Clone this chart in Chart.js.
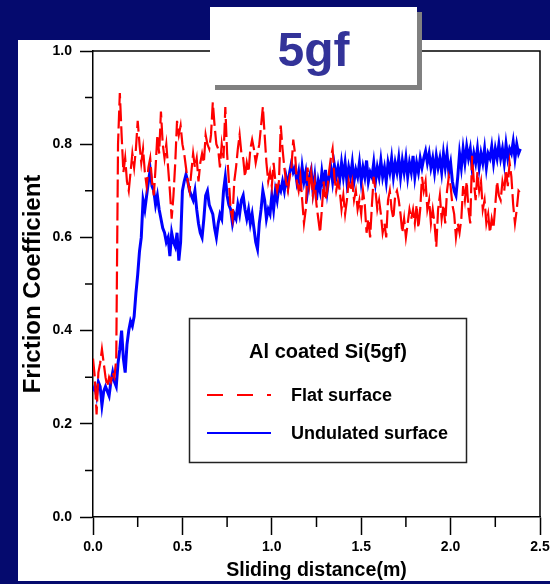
<!DOCTYPE html>
<html>
<head>
<meta charset="utf-8">
<script src="https://cdn.jsdelivr.net/npm/chart.js@4.4.1/dist/chart.umd.min.js"></script>
<style>
  html, body { margin: 0; padding: 0; background: #050a6e; overflow: hidden; }
  canvas { display: block; }
</style>
</head>
<body>
<canvas id="chart" width="550" height="584"></canvas>
<script>
// Sliding distance (m) at which each friction sample was recorded
const distance = [
  0.00,0.01,0.02,0.03,0.04,0.05,0.06,0.07,0.08,0.09,
  0.10,0.11,0.12,0.13,0.14,0.15,0.16,0.17,0.18,0.19,
  0.20,0.21,0.22,0.23,0.24,0.25,0.26,0.27,0.28,0.29,
  0.30,0.31,0.32,0.33,0.34,0.35,0.36,0.37,0.38,0.39,
  0.40,0.41,0.42,0.43,0.44,0.45,0.46,0.47,0.48,0.49,
  0.50,0.51,0.52,0.53,0.54,0.55,0.56,0.57,0.58,0.59,
  0.60,0.61,0.62,0.63,0.64,0.65,0.66,0.67,0.68,0.69,
  0.70,0.71,0.72,0.73,0.74,0.75,0.76,0.77,0.78,0.79,
  0.80,0.81,0.82,0.83,0.84,0.85,0.86,0.87,0.88,0.89,
  0.90,0.91,0.92,0.93,0.94,0.95,0.96,0.97,0.98,0.99,
  1.00,1.01,1.02,1.03,1.04,1.05,1.06,1.07,1.08,1.09,
  1.10,1.11,1.12,1.13,1.14,1.15,1.16,1.17,1.18,1.19,
  1.20,1.21,1.22,1.23,1.24,1.25,1.26,1.27,1.28,1.29,
  1.30,1.31,1.32,1.33,1.34,1.35,1.36,1.37,1.38,1.39,
  1.40,1.41,1.42,1.43,1.44,1.45,1.46,1.47,1.48,1.49,
  1.50,1.51,1.52,1.53,1.54,1.55,1.56,1.57,1.58,1.59,
  1.60,1.61,1.62,1.63,1.64,1.65,1.66,1.67,1.68,1.69,
  1.70,1.71,1.72,1.73,1.74,1.75,1.76,1.77,1.78,1.79,
  1.80,1.81,1.82,1.83,1.84,1.85,1.86,1.87,1.88,1.89,
  1.90,1.91,1.92,1.93,1.94,1.95,1.96,1.97,1.98,1.99,
  2.00,2.01,2.02,2.03,2.04,2.05,2.06,2.07,2.08,2.09,
  2.10,2.11,2.12,2.13,2.14,2.15,2.16,2.17,2.18,2.19,
  2.20,2.21,2.22,2.23,2.24,2.25,2.26,2.27,2.28,2.29,
  2.30,2.31,2.32,2.33,2.34,2.35,2.36,2.37,2.38,2.39
];

// Friction coefficient, flat surface
const flatSurface = [
  0.34,0.30,0.22,0.31,0.33,0.36,0.33,0.30,0.28,0.30,
  0.29,0.31,0.30,0.34,0.80,0.91,0.82,0.74,0.77,0.72,
  0.70,0.74,0.78,0.75,0.79,0.85,0.80,0.76,0.79,0.74,
  0.71,0.75,0.77,0.72,0.69,0.75,0.82,0.78,0.87,0.80,
  0.77,0.80,0.75,0.70,0.64,0.69,0.76,0.85,0.82,0.84,
  0.80,0.78,0.75,0.72,0.70,0.74,0.78,0.75,0.77,0.72,
  0.76,0.78,0.76,0.82,0.80,0.79,0.82,0.89,0.84,0.80,
  0.79,0.75,0.80,0.77,0.88,0.78,0.72,0.66,0.64,0.72,
  0.75,0.79,0.82,0.78,0.77,0.73,0.76,0.74,0.79,0.81,
  0.79,0.76,0.78,0.80,0.84,0.88,0.82,0.76,0.72,0.74,
  0.71,0.76,0.72,0.70,0.72,0.84,0.79,0.75,0.72,0.70,
  0.73,0.75,0.81,0.78,0.72,0.70,0.73,0.68,0.63,0.66,
  0.75,0.71,0.74,0.69,0.72,0.67,0.64,0.61,0.66,0.72,
  0.68,0.70,0.74,0.77,0.79,0.73,0.70,0.72,0.70,0.66,
  0.69,0.65,0.68,0.72,0.70,0.72,0.68,0.70,0.66,0.68,
  0.65,0.70,0.67,0.61,0.64,0.60,0.67,0.73,0.70,0.66,
  0.68,0.65,0.61,0.63,0.60,0.68,0.70,0.66,0.64,0.69,
  0.70,0.68,0.65,0.61,0.64,0.60,0.63,0.66,0.64,0.66,
  0.63,0.67,0.62,0.66,0.73,0.70,0.72,0.66,0.68,0.63,
  0.66,0.63,0.58,0.66,0.69,0.64,0.67,0.63,0.70,0.73,
  0.71,0.67,0.65,0.60,0.63,0.61,0.64,0.71,0.68,0.72,
  0.66,0.63,0.775,0.72,0.68,0.74,0.70,0.72,0.66,0.68,
  0.63,0.65,0.61,0.64,0.62,0.67,0.72,0.69,0.68,0.72,
  0.70,0.745,0.71,0.76,0.73,0.67,0.63,0.66,0.70,0.695
];

// Friction coefficient, undulated surface
const undulatedSurface = [
  0.27,0.28,0.26,0.29,0.28,0.24,0.27,0.28,0.27,0.26,
  0.29,0.31,0.29,0.28,0.33,0.36,0.40,0.34,0.31,0.37,
  0.40,0.42,0.41,0.43,0.48,0.52,0.57,0.60,0.68,0.66,
  0.69,0.72,0.745,0.71,0.70,0.67,0.69,0.66,0.64,0.62,
  0.61,0.59,0.60,0.56,0.61,0.59,0.58,0.61,0.55,0.59,
  0.70,0.72,0.735,0.72,0.70,0.69,0.68,0.70,0.66,0.63,
  0.61,0.60,0.64,0.69,0.70,0.67,0.66,0.65,0.62,0.60,
  0.63,0.65,0.64,0.70,0.73,0.69,0.67,0.66,0.63,0.65,
  0.64,0.67,0.65,0.68,0.69,0.66,0.64,0.66,0.63,0.65,
  0.62,0.59,0.575,0.63,0.66,0.70,0.68,0.64,0.66,0.65,
  0.69,0.66,0.70,0.68,0.71,0.70,0.72,0.70,0.73,0.71,
  0.74,0.76,0.74,0.75,0.72,0.74,0.70,0.75,0.72,0.74,
  0.70,0.73,0.745,0.70,0.73,0.68,0.72,0.70,0.74,0.71,
  0.745,0.70,0.73,0.75,0.72,0.755,0.73,0.75,0.725,0.76,
  0.73,0.76,0.72,0.75,0.73,0.76,0.72,0.745,0.73,0.76,
  0.72,0.75,0.73,0.765,0.72,0.74,0.73,0.76,0.72,0.75,
  0.73,0.765,0.73,0.75,0.72,0.76,0.74,0.77,0.73,0.76,
  0.74,0.77,0.73,0.765,0.74,0.77,0.73,0.76,0.74,0.775,
  0.73,0.76,0.74,0.77,0.75,0.77,0.785,0.76,0.78,0.75,
  0.77,0.74,0.775,0.75,0.77,0.74,0.78,0.75,0.78,0.74,
  0.76,0.72,0.70,0.69,0.73,0.78,0.75,0.79,0.76,0.795,
  0.77,0.79,0.75,0.78,0.76,0.79,0.75,0.78,0.76,0.79,
  0.75,0.78,0.77,0.795,0.76,0.79,0.77,0.80,0.77,0.79,
  0.76,0.80,0.77,0.79,0.78,0.805,0.77,0.80,0.78,0.79
];

const seriesLabels = ['Flat surface', 'Undulated surface'];
const legendTitle = 'Al coated Si(5gf)';
const panelTitle = '5gf';
const xAxisTitle = 'Sliding distance(m)';
const yAxisTitle = 'Friction Coefficient';
const xRange = [0, 2.5];
const yRange = [0, 1.0];

const NAVY = '#050a6e';
const FONT = 'Arial, "Liberation Sans", Helvetica, sans-serif';
const LEGEND_DASH = [16, 14];

const toPoints = (xs, ys) => ys.map((v, i) => ({ x: xs[i], y: v }));
const near = (v, step) => Math.abs(v / step - Math.round(v / step)) < 1e-6;

// Navy backdrop, white panel, plot frame, minor ticks, legend box and title card
const decorations = {
  id: 'decorations',
  beforeDraw(chart) {
    const c = chart.ctx;
    c.save();
    c.fillStyle = NAVY;
    c.fillRect(0, 0, chart.width, chart.height);
    c.fillStyle = '#ffffff';
    c.fillRect(18, 40, chart.width - 18, 541);
    c.restore();
  },
  afterDraw(chart) {
    const c = chart.ctx;
    const a = chart.chartArea;
    const xs = chart.scales.x, ys = chart.scales.y;
    c.save();
    c.strokeStyle = '#000';
    c.lineWidth = 1.5;
    c.beginPath();
    c.moveTo(a.left, a.top);
    c.lineTo(a.right, a.top);
    c.lineTo(a.right, a.bottom);
    c.stroke();

    // short minor ticks
    c.beginPath();
    ys.ticks.forEach(t => {
      if (!near(t.value, 0.2)) {
        const p = ys.getPixelForValue(t.value);
        c.moveTo(a.left - 8, p); c.lineTo(a.left, p);
      }
    });
    xs.ticks.forEach(t => {
      if (!near(t.value, 0.5)) {
        const p = xs.getPixelForValue(t.value);
        c.moveTo(p, a.bottom); c.lineTo(p, a.bottom + 10);
      }
    });
    c.stroke();

    // legend box
    const lx = 189.5, ly = 318.5, lw = 277, lh = 144;
    c.fillStyle = '#fff';
    c.fillRect(lx, ly, lw, lh);
    c.strokeStyle = '#222';
    c.lineWidth = 1.5;
    c.strokeRect(lx, ly, lw, lh);
    c.fillStyle = '#000';
    c.textBaseline = 'alphabetic';
    c.textAlign = 'center';
    c.font = 'bold 20px ' + FONT;
    c.fillText(legendTitle, lx + lw / 2, 358);
    const rows = [395, 433];
    const baselines = [401, 439];
    chart.data.datasets.forEach((ds, i) => {
      c.save();
      c.strokeStyle = ds.borderColor;
      c.lineWidth = 2;
      c.setLineDash(ds.borderDash ? LEGEND_DASH : []);
      c.beginPath();
      c.moveTo(207, rows[i]);
      c.lineTo(271, rows[i]);
      c.stroke();
      c.restore();
      c.fillStyle = '#000';
      c.textAlign = 'left';
      c.font = 'bold 18px ' + FONT;
      c.fillText(ds.label, 291, baselines[i]);
    });

    // title card with drop shadow
    c.fillStyle = '#808080';
    c.fillRect(215, 12, 207, 78);
    c.fillStyle = '#ffffff';
    c.fillRect(210, 7, 207, 78);
    c.fillStyle = '#333399';
    c.textAlign = 'center';
    c.textBaseline = 'alphabetic';
    c.font = 'bold 48px ' + FONT;
    c.fillText(panelTitle, 313.5, 66);
    c.restore();
  }
};

new Chart(document.getElementById('chart'), {
  type: 'line',
  data: {
    datasets: [
      {
        label: seriesLabels[0],
        data: toPoints(distance, flatSurface),
        borderColor: '#ff0000',
        borderWidth: 2.2,
        borderDash: [18, 5],
        pointRadius: 0,
        tension: 0,
        order: 0
      },
      {
        label: seriesLabels[1],
        data: toPoints(distance, undulatedSurface),
        borderColor: '#0000ff',
        borderWidth: 3,
        pointRadius: 0,
        tension: 0,
        order: 1
      }
    ]
  },
  options: {
    responsive: false,
    devicePixelRatio: 1,
    animation: false,
    layout: { autoPadding: false, padding: { left: 18, top: 51, right: 10, bottom: 0 } },
    plugins: { legend: { display: false }, tooltip: { enabled: false } },
    scales: {
      x: {
        type: 'linear',
        position: 'bottom',
        min: xRange[0],
        max: xRange[1],
        afterFit(s) { s.height = 67; s.paddingLeft = 0; s.paddingRight = 0; },
        ticks: {
          stepSize: 0.25,
          autoSkip: false,
          maxRotation: 0,
          padding: 4,
          color: '#000',
          font: { family: FONT, size: 14, weight: 'bold' },
          callback: v => near(v, 0.5) ? v.toFixed(1) : ''
        },
        grid: {
          drawOnChartArea: false,
          drawTicks: true,
          tickLength: 18,
          tickWidth: 1.5,
          tickColor: ctx => (ctx.tick && near(ctx.tick.value, 0.5)) ? '#000' : 'rgba(0,0,0,0)'
        },
        border: { display: true, color: '#000', width: 1.5 },
        title: {
          display: true,
          text: xAxisTitle,
          color: '#000',
          font: { family: FONT, size: 19.6, weight: 'bold' },
          padding: { top: 0, bottom: 2 }
        }
      },
      y: {
        type: 'linear',
        position: 'left',
        min: yRange[0],
        max: yRange[1],
        afterFit(s) { s.width = 75; s.paddingTop = 0; s.paddingBottom = 0; },
        ticks: {
          stepSize: 0.1,
          autoSkip: false,
          padding: 8,
          color: '#000',
          font: { family: FONT, size: 14, weight: 'bold' },
          callback: v => near(v, 0.2) ? v.toFixed(1) : ''
        },
        grid: {
          drawOnChartArea: false,
          drawTicks: true,
          tickLength: 13,
          tickWidth: 1.5,
          tickColor: ctx => (ctx.tick && near(ctx.tick.value, 0.2)) ? '#000' : 'rgba(0,0,0,0)'
        },
        border: { display: true, color: '#000', width: 1.5 },
        title: {
          display: true,
          text: yAxisTitle,
          color: '#000',
          font: { family: FONT, size: 24, weight: 'bold' },
          padding: { top: 1, bottom: 0 }
        }
      }
    }
  },
  plugins: [decorations]
});
</script>
</body>
</html>
